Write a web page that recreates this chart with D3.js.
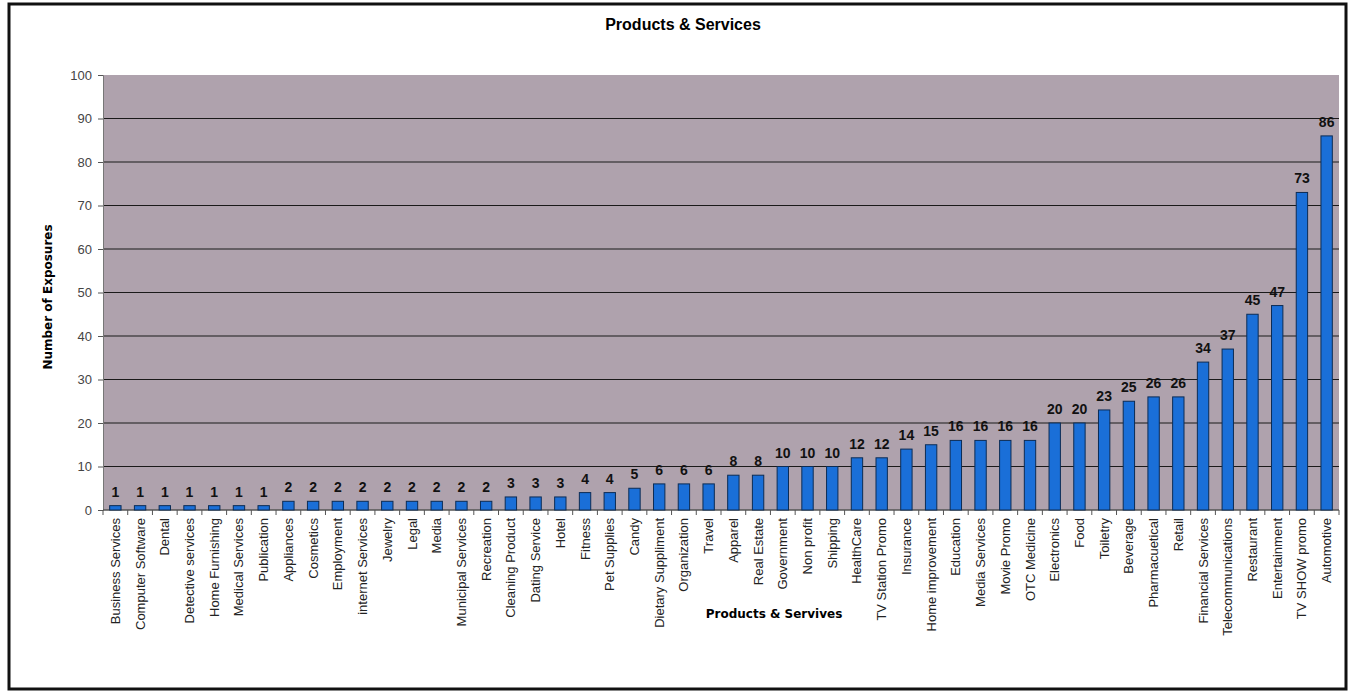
<!DOCTYPE html>
<html>
<head>
<meta charset="utf-8">
<script src="https://cdn.jsdelivr.net/npm/d3@7"></script>
<style>
  body { margin: 0; background: #fff; }
  svg { display: block; font-family: "Liberation Sans", Arial, sans-serif; }
</style>
</head>
<body>
<div id="plot"></div>
<script>
    // Categories and exposure counts
    const categories = [
        'Business Services', 'Computer Software', 'Dental', 'Detective services', 'Home Furnishing',
        'Medical Services', 'Publication', 'Appliances', 'Cosmetics', 'Employment',
        'internet Services', 'Jewelry', 'Legal', 'Media', 'Municipal Services',
        'Recreation', 'Cleaning Product', 'Dating Service', 'Hotel', 'Fitness',
        'Pet Supplies', 'Candy', 'Dietary Suppliment', 'Organization', 'Travel',
        'Apparel', 'Real Estate', 'Government', 'Non profit', 'Shipping',
        'HealthCare', 'TV Station Promo', 'Insurance', 'Home improvement', 'Education',
        'Media Services', 'Movie Promo', 'OTC Medicine', 'Electronics', 'Food',
        'Toiletry', 'Beverage', 'Pharmacuetical', 'Retail', 'Financial Services',
        'Telecommunications', 'Restaurant', 'Entertainment', 'TV SHOW promo', 'Automotive'
    ];
    const exposures = [
        1, 1, 1, 1, 1, 1, 1, 2, 2, 2,
        2, 2, 2, 2, 2, 2, 3, 3, 3, 4,
        4, 5, 6, 6, 6, 8, 8, 10, 10, 10,
        12, 12, 14, 15, 16, 16, 16, 16, 20, 20,
        23, 25, 26, 26, 34, 37, 45, 47, 73, 86
    ];
    const yTicks = [0, 10, 20, 30, 40, 50, 60, 70, 80, 90, 100];

    const data = categories.map((c, i) => ({ category: c, value: exposures[i] }));

    const svgWidth = 1354;
    const svgHeight = 692;
    const margin = { top: 75, right: 15, bottom: 182, left: 103 };
    const plotW = 1339 - margin.left;
    const plotH = svgHeight - margin.bottom - margin.top;

    const svg = d3.select('#plot')
        .append('svg')
        .attr('width', svgWidth)
        .attr('height', svgHeight);

    // outer frame
    svg.append('rect')
        .attr('x', 9).attr('y', 4)
        .attr('width', 1337).attr('height', 685)
        .attr('fill', 'none')
        .attr('stroke', '#111')
        .attr('stroke-width', 3);

    const xScale = d3.scaleBand()
        .domain(categories)
        .range([margin.left, margin.left + plotW])
        .paddingInner(0.54)
        .paddingOuter(0.27);

    const yScale = d3.scaleLinear()
        .domain([0, 100])
        .range([margin.top + plotH, margin.top]);

    // plot background
    svg.append('rect')
        .attr('x', margin.left)
        .attr('y', margin.top)
        .attr('width', plotW)
        .attr('height', plotH)
        .attr('fill', '#afa2ad');

    // gridlines
    svg.append('g')
        .selectAll('line')
        .data(yTicks.filter(t => t > 0 && t < 100))
        .enter()
        .append('line')
        .attr('x1', margin.left)
        .attr('x2', margin.left + plotW)
        .attr('y1', d => yScale(d))
        .attr('y2', d => yScale(d))
        .attr('stroke', '#1a1a1a')
        .attr('stroke-width', 1.2);

    // y axis
    const yAxis = svg.append('g')
        .attr('transform', `translate(${margin.left}, 0)`)
        .call(d3.axisLeft(yScale).tickValues(yTicks).tickSize(5).tickPadding(6));
    yAxis.select('.domain').attr('stroke', '#777');
    yAxis.selectAll('.tick line').attr('stroke', '#555');
    yAxis.selectAll('text')
        .style('font-size', '13px')
        .attr('fill', '#444');

    // x axis: ticks on category boundaries
    const xAxis = svg.append('g')
        .attr('transform', `translate(0, ${margin.top + plotH})`);
    xAxis.append('line')
        .attr('x1', margin.left).attr('x2', margin.left + plotW)
        .attr('stroke', '#555').attr('stroke-width', 1.5);
    xAxis.selectAll('.bound')
        .data(d3.range(categories.length + 1))
        .enter()
        .append('line')
        .attr('x1', i => margin.left + i * plotW / categories.length)
        .attr('x2', i => margin.left + i * plotW / categories.length)
        .attr('y1', 0).attr('y2', 5)
        .attr('stroke', '#555');
    xAxis.selectAll('.xlab')
        .data(categories)
        .enter()
        .append('text')
        .attr('transform', d => `translate(${xScale(d) + xScale.bandwidth() / 2 + 4.5}, 8) rotate(-90)`)
        .attr('text-anchor', 'end')
        .style('font-size', '13px')
        .attr('fill', '#222')
        .text(d => d);

    // bars
    svg.selectAll('.bar')
        .data(data)
        .enter()
        .append('rect')
        .attr('class', 'bar')
        .attr('x', d => xScale(d.category))
        .attr('y', d => yScale(d.value))
        .attr('width', xScale.bandwidth())
        .attr('height', d => yScale(0) - yScale(d.value))
        .attr('fill', '#1a6fd8')
        .attr('stroke', '#0c2c55')
        .attr('stroke-width', 1);

    // value labels
    svg.selectAll('.bar-label')
        .data(data)
        .enter()
        .append('text')
        .attr('class', 'bar-label')
        .attr('x', d => xScale(d.category) + xScale.bandwidth() / 2)
        .attr('y', d => yScale(d.value) - 9)
        .attr('text-anchor', 'middle')
        .style('font-size', '14px')
        .style('font-weight', 'bold')
        .attr('fill', '#111')
        .text(d => d.value);

    // title
    svg.append('text')
        .attr('x', 683).attr('y', 30)
        .attr('text-anchor', 'middle')
        .style('font-size', '16px')
        .style('font-weight', 'bold')
        .text('Products & Services');

    // axis titles
    svg.append('text')
        .attr('transform', 'translate(774, 618)')
        .attr('text-anchor', 'middle')
        .style('font-family', '"DejaVu Sans", Verdana, sans-serif')
        .style('font-size', '12px')
        .style('font-weight', 'bold')
        .text('Products & Servives');

    svg.append('text')
        .attr('transform', 'translate(52, 297) rotate(-90)')
        .attr('text-anchor', 'middle')
        .style('font-family', '"DejaVu Sans", Verdana, sans-serif')
        .style('font-size', '12px')
        .style('font-weight', 'bold')
        .text('Number of Exposures');
</script>
</body>
</html>
